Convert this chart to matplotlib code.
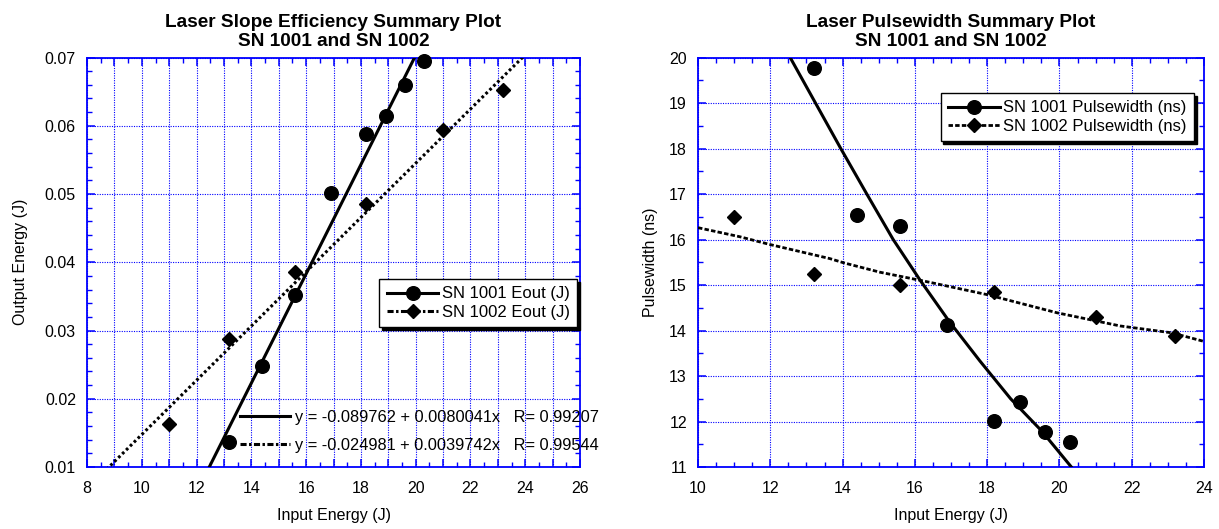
import numpy as np
import matplotlib
matplotlib.use("Agg")
import matplotlib.pyplot as plt
from matplotlib.ticker import MultipleLocator, FuncFormatter
from matplotlib.lines import Line2D

plt.rcParams['font.family'] = ['Liberation Sans', 'DejaVu Sans']

############ data ############
# SN 1001 / SN 1002 measurements
x_1001     = [13.2, 14.4, 15.6, 16.9, 18.2, 18.9, 19.6, 20.3]
eout_1001  = [0.0137, 0.0248, 0.0352, 0.0501, 0.0588, 0.0614, 0.0659, 0.0695]
pw_1001    = [19.77, 16.54, 16.30, 14.13, 12.02, 12.42, 11.78, 11.56]

x_1002     = [11.0, 13.2, 15.6, 18.2, 21.0, 23.2]
eout_1002  = [0.0163, 0.0288, 0.0385, 0.0485, 0.0594, 0.0652]
pw_1002    = [16.49, 15.24, 15.00, 14.84, 14.29, 13.89]

# linear fits (from the equation labels)
fit_1001 = (-0.089762, 0.0080041, 0.99207)
fit_1002 = (-0.024981, 0.0039742, 0.99544)

# smoothed pulsewidth curves
pwfit_x_1001 = [12.55, 13.25, 13.95, 14.67, 15.40, 16.15, 16.95, 17.80, 18.65, 19.50, 20.33]
pwfit_y_1001 = [20.0, 19.0, 18.0, 17.0, 16.0, 15.1, 14.2, 13.33, 12.5, 11.8, 11.0]
pwfit_x_1002 = [10.0, 11.16, 11.99, 13.65, 14.02, 15.04, 16.23, 17.99, 19.93, 21.68, 23.1, 24.0]
pwfit_y_1002 = [16.26, 16.06, 15.89, 15.58, 15.49, 15.28, 15.09, 14.79, 14.39, 14.10, 13.95, 13.76]

BLUE = '#0000ff'
DOTS = (0, (0.9, 0.9))
DASH = (0, (1.6, 0.8))
DASHDOT = (0, (2.0, 0.8, 0.8, 0.8))


def style_axes(ax):
    for s in ax.spines.values():
        s.set_color(BLUE)
        s.set_linewidth(1.3)
    ax.tick_params(which='both', direction='in', top=True, right=True,
                   colors=BLUE, labelcolor='black', labelsize=11.5)
    ax.tick_params(axis='x', which='both', pad=10)
    ax.tick_params(axis='y', which='both', pad=8)
    ax.tick_params(which='major', length=6, width=1.1)
    ax.tick_params(which='minor', length=3.5, width=1.0)
    ax.grid(True, which='major', color=BLUE, linestyle=(0, (1, 1.2)), linewidth=0.8)
    ax.set_axisbelow(True)


fig = plt.figure(figsize=(12.19, 5.29), dpi=100)
ax1 = fig.add_axes([0.0714, 0.1172, 0.4044, 0.7741])
ax2 = fig.add_axes([0.5726, 0.1172, 0.4151, 0.7741])

#################### left: slope efficiency ####################
xl = np.array([8.0, 26.0])
ax1.plot(xl, fit_1001[0] + fit_1001[1] * xl, color='k', lw=2.2, zorder=3)
ax1.plot(xl, fit_1002[0] + fit_1002[1] * xl, color='k', lw=2.2, linestyle=DOTS, zorder=3)
ax1.plot(x_1001, eout_1001, 'o', color='k', ms=9.8, zorder=4, clip_on=False)
ax1.plot(x_1002, eout_1002, 'D', color='k', ms=7.5, zorder=4, clip_on=False)

ax1.set_xlim(8, 26)
ax1.set_ylim(0.01, 0.07)
ax1.xaxis.set_major_locator(MultipleLocator(1))
ax1.xaxis.set_minor_locator(MultipleLocator(0.5))
ax1.xaxis.set_major_formatter(FuncFormatter(lambda v, p: '%d' % v if round(v) % 2 == 0 else ''))
ax1.yaxis.set_major_locator(MultipleLocator(0.01))
ax1.yaxis.set_minor_locator(MultipleLocator(0.002))
ax1.yaxis.set_major_formatter(FuncFormatter(lambda v, p: '%.2f' % v))
style_axes(ax1)
ax1.set_xlabel('Input Energy (J)', fontsize=11.5, labelpad=9)
ax1.set_ylabel('Output Energy (J)', fontsize=11.5, labelpad=12)
ax1.set_title('Laser Slope Efficiency Summary Plot\nSN 1001 and SN 1002',
              fontsize=13.7, fontweight='bold', pad=8)

h1 = [Line2D([], [], color='k', lw=2.2, marker='o', ms=9.8),
      Line2D([], [], color='k', lw=2.2, linestyle=DASHDOT, marker='D', ms=7.5)]
leg1 = ax1.legend(h1, ['SN 1001 Eout (J)', 'SN 1002 Eout (J)'], loc='upper right',
                  bbox_to_anchor=(0.994, 0.459), borderaxespad=0, fontsize=12,
                  fancybox=False, edgecolor='k', framealpha=1, handlelength=3.1,
                  handletextpad=0.2, labelspacing=0.2, borderpad=0.44,
                  shadow={'color': 'k', 'alpha': 1})
leg1.get_frame().set_linewidth(1.0)
ax1.add_artist(leg1)

eq_labels = ['y = %.6f + %.7fx   R= %.5f' % fit_1001,
             'y = %.6f + %.7fx   R= %.5f' % fit_1002]
h_eq = [Line2D([], [], color='k', lw=2.2),
        Line2D([], [], color='k', lw=2.2, linestyle=DASHDOT)]
leg_eq = ax1.legend(h_eq, eq_labels, loc='center left', bbox_to_anchor=(0.31, 0.087),
                    borderaxespad=0, borderpad=0, frameon=False, fontsize=11.8,
                    handlelength=3.05, handletextpad=0.3, labelspacing=0.8)

#################### right: pulsewidth ####################
ax2.plot(pwfit_x_1001, pwfit_y_1001, color='k', lw=2.2, zorder=3)
ax2.plot(pwfit_x_1002, pwfit_y_1002, color='k', lw=2.0, linestyle=DASH, zorder=3)
ax2.plot(x_1001, pw_1001, 'o', color='k', ms=9.8, zorder=4, clip_on=False)
ax2.plot(x_1002, pw_1002, 'D', color='k', ms=7.5, zorder=4, clip_on=False)

ax2.set_xlim(10, 24)
ax2.set_ylim(11, 20)
ax2.xaxis.set_major_locator(MultipleLocator(2))
ax2.xaxis.set_minor_locator(MultipleLocator(0.5))
ax2.yaxis.set_major_locator(MultipleLocator(1))
ax2.yaxis.set_minor_locator(MultipleLocator(0.5))
style_axes(ax2)
ax2.set_xlabel('Input Energy (J)', fontsize=11.5, labelpad=9)
ax2.set_ylabel('Pulsewidth (ns)', fontsize=11.5, labelpad=8)
ax2.set_title('Laser Pulsewidth Summary Plot\nSN 1001 and SN 1002',
              fontsize=13.7, fontweight='bold', pad=8)

h2 = [Line2D([], [], color='k', lw=2.2, marker='o', ms=9.8),
      Line2D([], [], color='k', lw=2.0, linestyle=DASH, marker='D', ms=7.5)]
leg2 = ax2.legend(h2, ['SN 1001 Pulsewidth (ns)', 'SN 1002 Pulsewidth (ns)'], loc='upper right',
                  bbox_to_anchor=(0.980, 0.913), borderaxespad=0, fontsize=12,
                  fancybox=False, edgecolor='k', framealpha=1, handlelength=3.1,
                  handletextpad=0.2, labelspacing=0.2, borderpad=0.44,
                  shadow={'color': 'k', 'alpha': 1})
leg2.get_frame().set_linewidth(1.0)

fig.savefig('out.png', dpi=100)
